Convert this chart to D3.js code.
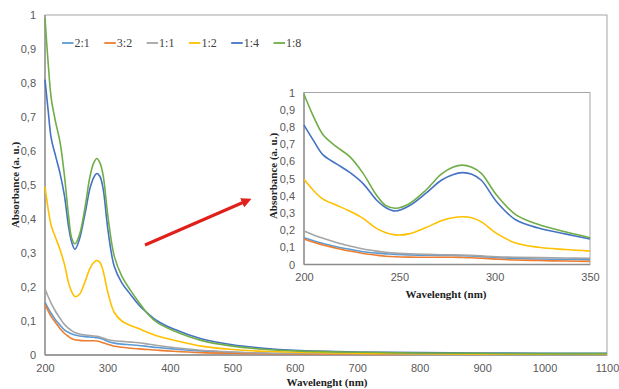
<!DOCTYPE html>
<html><head><meta charset="utf-8">
<script src="https://cdn.jsdelivr.net/npm/d3@7"></script>
<style>html,body{margin:0;padding:0;background:#fff;}svg{display:block;}</style>
</head><body>
<svg id="chart" width="619" height="389"></svg>
<script>
// ---------- DATA ----------
const wavelengths = [200,205,210,217,224,231,238,243,248,255,264,272,278,283,288,293,301,311,323,337,350,365,380,405,450,500,550,600,700,800,900,1000,1100];
const seriesNames = ["2:1","3:2","1:1","1:2","1:4","1:8"];
const s21 = [0.155,0.138,0.122,0.103,0.088,0.074,0.066,0.062,0.059,0.056,0.054,0.053,0.052,0.051,0.049,0.046,0.040,0.035,0.032,0.030,0.028,0.025,0.022,0.018,0.012,0.008,0.005,0.004,0.003,0.003,0.003,0.003,0.003];
const s32 = [0.148,0.130,0.113,0.095,0.078,0.064,0.054,0.048,0.045,0.043,0.042,0.042,0.042,0.041,0.039,0.036,0.031,0.026,0.023,0.020,0.018,0.016,0.014,0.011,0.007,0.005,0.004,0.003,0.002,0.002,0.002,0.002,0.002];
const s11 = [0.195,0.172,0.152,0.128,0.108,0.090,0.078,0.071,0.066,0.062,0.059,0.057,0.056,0.055,0.053,0.050,0.045,0.042,0.040,0.038,0.036,0.032,0.028,0.022,0.014,0.009,0.006,0.005,0.004,0.003,0.003,0.003,0.003];
const s12 = [0.495,0.430,0.380,0.345,0.310,0.268,0.210,0.185,0.172,0.178,0.215,0.255,0.272,0.278,0.272,0.248,0.181,0.125,0.100,0.087,0.078,0.066,0.056,0.044,0.026,0.016,0.011,0.008,0.005,0.004,0.003,0.003,0.003];
const s14 = [0.810,0.720,0.637,0.585,0.535,0.470,0.375,0.330,0.311,0.340,0.415,0.490,0.522,0.534,0.525,0.490,0.365,0.260,0.212,0.178,0.148,0.122,0.100,0.077,0.048,0.030,0.020,0.014,0.009,0.007,0.006,0.005,0.005];
const s18 = [0.990,0.860,0.755,0.685,0.627,0.530,0.404,0.342,0.327,0.352,0.433,0.525,0.565,0.578,0.565,0.530,0.404,0.290,0.232,0.190,0.156,0.120,0.095,0.072,0.043,0.026,0.017,0.012,0.008,0.006,0.005,0.004,0.004];
const seriesValues = [s21,s32,s11,s12,s14,s18];
const seriesColors = ["#5B9BD5","#ED7D31","#A5A5A5","#FFC000","#4472C4","#70AD47"];

const mainXTicks = [200,300,400,500,600,700,800,900,1000,1100];
const yTicks = [0,0.1,0.2,0.3,0.4,0.5,0.6,0.7,0.8,0.9,1];
const yTickLabels = ["0","0,1","0,2","0,3","0,4","0,5","0,6","0,7","0,8","0,9","1"];
const insetXTicks = [200,250,300,350];
const insetMaxWl = 350;

// ---------- DRAW ----------
const svg = d3.select("#chart");
const tickFont = "'Liberation Sans', Arial, sans-serif";
const titleFont = "'Liberation Serif', 'Times New Roman', serif";

function drawPanel(g, x, y, xTicks, maxWl, tickY, yLabelRight) {
  const [x0,x1] = x.range(), [y0,y1] = y.range();
  g.append("rect").attr("x",x0).attr("y",y1).attr("width",x1-x0).attr("height",y0-y1)
    .attr("fill","none").attr("stroke","#a6a6a6").attr("stroke-width",1);
  g.append("line").attr("x1",x0).attr("x2",x0).attr("y1",y1).attr("y2",y0).attr("stroke","#8c8c8c").attr("stroke-width",1.3);
  g.append("line").attr("x1",x0).attr("x2",x1).attr("y1",y0).attr("y2",y0).attr("stroke","#8c8c8c").attr("stroke-width",1.3);
  const yAxis = d3.axisLeft(y).tickValues(yTicks).tickSize(0).tickPadding(x0-yLabelRight)
    .tickFormat((d,i)=>yTickLabels[i]);
  const ya = g.append("g").attr("transform",`translate(${x0},0)`).call(yAxis);
  ya.select(".domain").remove();
  ya.selectAll("text").attr("font-family",tickFont).attr("font-size","11px").attr("fill","#595959");
  const xAxis = d3.axisBottom(x).tickValues(xTicks).tickSize(0).tickPadding(tickY-y0).tickFormat(d3.format("d"));
  const xa = g.append("g").attr("transform",`translate(0,${y0})`).call(xAxis);
  xa.select(".domain").remove();
  xa.selectAll("text").attr("font-family",tickFont).attr("font-size","11px").attr("fill","#595959");
  const line = d3.line().x(d=>x(d[0])).y(d=>y(d[1])).curve(d3.curveCatmullRom.alpha(0.5));
  seriesValues.forEach((vals,si)=>{
    const pts = wavelengths.map((w,i)=>[w,vals[i]]).filter(p=>p[0]<=maxWl);
    g.append("path").datum(pts).attr("d",line).attr("fill","none")
      .attr("stroke",seriesColors[si]).attr("stroke-width",1.6).attr("stroke-linejoin","round");
  });
}

// Main chart
const xMain = d3.scaleLinear().domain([200,1100]).range([45,607]);
const yMain = d3.scaleLinear().domain([0,1]).range([355,15]);
const gMain = svg.append("g");
drawPanel(gMain, xMain, yMain, mainXTicks, 1100, 364, 36);

svg.append("text").attr("x",327).attr("y",386).attr("text-anchor","middle")
  .attr("font-family",titleFont).attr("font-weight","bold").attr("font-size","11px").attr("fill","#222")
  .text("Wavelenght (nm)");
svg.append("text").attr("transform","translate(19,185) rotate(-90)").attr("text-anchor","middle")
  .attr("font-family",titleFont).attr("font-weight","bold").attr("font-size","11px").attr("fill","#222")
  .text("Absorbance (a. u.)");

// Legend
const legend = svg.append("g");
seriesNames.forEach((n,i)=>{
  const lx = 62 + i*42.3;
  legend.append("line").attr("x1",lx).attr("x2",lx+11.5).attr("y1",43).attr("y2",43)
    .attr("stroke",seriesColors[i]).attr("stroke-width",1.8);
  legend.append("text").attr("x",lx+12.5).attr("y",47).attr("font-family",titleFont)
    .attr("font-size","12px").attr("fill","#404040").text(n);
});

// Red arrow
const defs = svg.append("defs");
defs.append("marker").attr("id","ah").attr("viewBox","0 0 10 10").attr("refX",2).attr("refY",5)
  .attr("markerWidth",3.4).attr("markerHeight",3.4).attr("orient","auto")
  .append("path").attr("d","M0,0 L10,5 L0,10 Z").attr("fill","#e0201b");
svg.append("line").attr("x1",145).attr("y1",245).attr("x2",244).attr("y2",202)
  .attr("stroke","#e0201b").attr("stroke-width",3).attr("marker-end","url(#ah)");

// Inset
const xIn = d3.scaleLinear().domain([200,350]).range([304,590]);
const yIn = d3.scaleLinear().domain([0,1]).range([264.5,92.5]);
const gIn = svg.append("g");
gIn.append("rect").attr("x",262).attr("y",85).attr("width",340).attr("height",218).attr("fill","#fff");
drawPanel(gIn, xIn, yIn, insetXTicks, insetMaxWl, 273, 295);
svg.append("text").attr("x",446).attr("y",298).attr("text-anchor","middle")
  .attr("font-family",titleFont).attr("font-weight","bold").attr("font-size","11px").attr("fill","#222")
  .text("Wavelenght (nm)");
svg.append("text").attr("transform","translate(277,176) rotate(-90)").attr("text-anchor","middle")
  .attr("font-family",titleFont).attr("font-weight","bold").attr("font-size","11px").attr("fill","#222")
  .text("Absorbance (a. u.)");
</script>
</body></html>
